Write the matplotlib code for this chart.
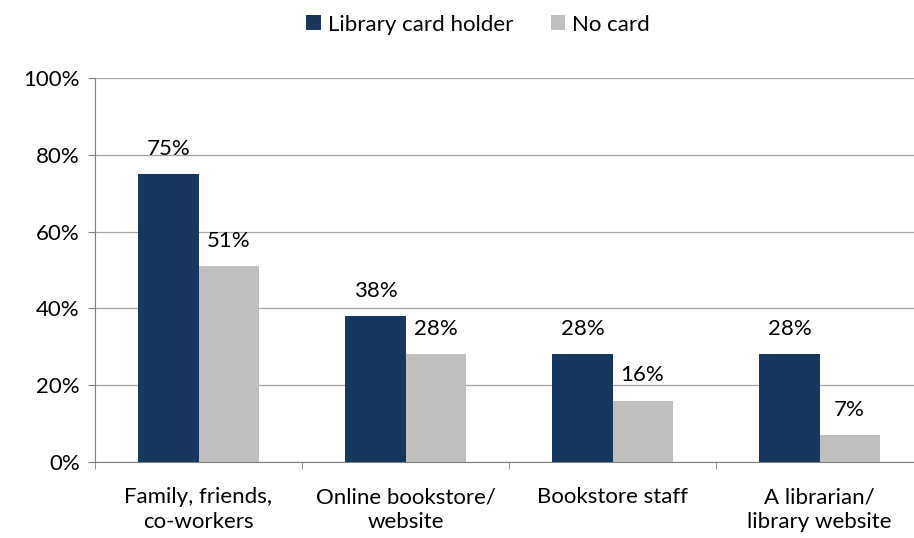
import matplotlib.pyplot as plt
import numpy as np

categories = ["Family, friends,\nco-workers", "Online bookstore/\nwebsite", "Bookstore staff", "A librarian/\nlibrary website"]
card_holder = [75, 38, 28, 28]
no_card = [51, 28, 16, 7]
series_names = ["Library card holder", "No card"]
yticks = [0, 20, 40, 60, 80, 100]

plt.rcParams['font.family'] = ['Lato', 'DejaVu Sans']
FS = 16
fig = plt.figure(figsize=(9.14, 5.38), dpi=100)
ax = fig.add_axes([95/914, 76/538, 828/914, 384/538])

x = np.arange(len(categories))
w = 0.29
c1, c2 = "#17375E", "#BFBFBF"
b1 = ax.bar(x - w/2, card_holder, w, color=c1, label=series_names[0], zorder=3)
b2 = ax.bar(x + w/2, no_card, w, color=c2, label=series_names[1], zorder=3)
for bars, vals in ((b1, card_holder), (b2, no_card)):
    for b, v in zip(bars, vals):
        ax.annotate(f"{v}%", (b.get_x() + b.get_width()/2, v), xytext=(0, 11), textcoords='offset points',
                    ha='center', va='bottom', fontsize=FS, color='black')

ax.set_xlim(-0.5, len(categories) - 0.5)
ax.set_ylim(0, 100)
ax.set_yticks(yticks)
ax.set_yticklabels([f"{t}%" for t in yticks], fontsize=FS)
ax.yaxis.grid(True, color="#A6A6A6", linewidth=0.9, zorder=0)
ax.set_xticks(x)
ax.set_xticklabels(categories, fontsize=FS, linespacing=1.32)
ax.tick_params(axis='x', length=0, pad=18)
ax.set_xticks(np.arange(len(categories) + 1) - 0.5, minor=True)
ax.tick_params(axis='x', which='minor', length=5, color="#808080", direction='out')
ax.tick_params(axis='y', length=5, color="#808080", pad=6)
for s in ['top', 'right']:
    ax.spines[s].set_visible(False)
for s in ['left', 'bottom']:
    ax.spines[s].set_color("#808080")
ax.set_axisbelow(True)

fig.legend(handles=[b1, b2], labels=series_names, loc='upper center', bbox_to_anchor=(0.523, 1.01), ncol=2,
           frameon=False, fontsize=FS, handlelength=0.65, handleheight=0.65, handletextpad=0.3, columnspacing=1.7)

fig.savefig("out.png", dpi=100)
